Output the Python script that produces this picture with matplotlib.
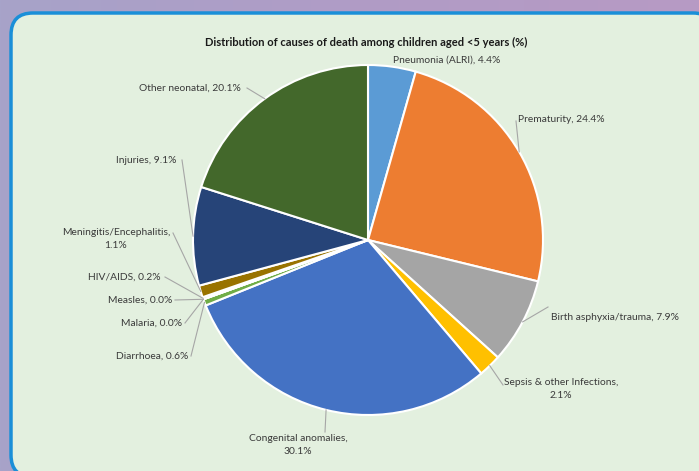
import numpy as np
import matplotlib
matplotlib.use("Agg")
import matplotlib.pyplot as plt
from matplotlib.patches import FancyBboxPatch

# data
causes = ["Pneumonia (ALRI)", "Prematurity", "Birth asphyxia/trauma",
          "Sepsis & other Infections", "Congenital anomalies", "Diarrhoea",
          "Malaria", "Measles", "HIV/AIDS", "Meningitis/Encephalitis",
          "Injuries", "Other neonatal"]
shares = [4.4, 24.4, 7.9, 2.1, 30.1, 0.6, 0.0, 0.0, 0.2, 1.1, 9.1, 20.1]
colors = ["#5B9BD5", "#ED7D31", "#A5A5A5", "#FFC000", "#4472C4", "#70AD47",
          "#255E91", "#9E480E", "#636363", "#997300", "#264478", "#43682B"]

W, H = 699, 471
CX, CY, R = 368, 240, 175  # pie centre / radius in pixels (from top)

# label text anchor (px), alignment, line break, elbow point (px)
label_pos = {
    "Pneumonia (ALRI)": ((447, 60), "center", False, None),
    "Prematurity": ((518, 119), "left", False, (516, 121)),
    "Birth asphyxia/trauma": ((551, 318), "left", False, (548, 307)),
    "Sepsis & other Infections": ((561, 389), "center", True, (503, 385)),
    "Congenital anomalies": ((298, 445), "center", True, (325, 432)),
    "Diarrhoea": ((188, 356), "right", False, (191, 356)),
    "Malaria": ((182, 323), "right", False, (185, 323)),
    "Measles": ((172, 300), "right", False, (175, 300)),
    "HIV/AIDS": ((161, 277), "right", False, (165, 277)),
    "Meningitis/Encephalitis": ((116, 239), "center", True, (173, 233)),
    "Injuries": ((176, 160), "right", False, (182, 160)),
    "Other neonatal": ((241, 88), "right", False, (247, 88)),
}

plt.rcParams['font.family'] = ['Lato', 'DejaVu Sans']

fig = plt.figure(figsize=(W / 100, H / 100), dpi=100)

# purple background
bg = fig.add_axes([0, 0, 1, 1])
grad = np.linspace(0, 1, 256).reshape(1, -1)
cmap = matplotlib.colors.LinearSegmentedColormap.from_list("bg", ["#A7A3C9", "#B09CC6", "#B79AC4"])
bg.imshow(grad, aspect="auto", cmap=cmap, extent=[0, W, 0, H])
bg.set_xlim(0, W)
bg.set_ylim(0, H)
bg.axis("off")
box = FancyBboxPatch((11, -6), W + 5, H - 14 + 7,
                     boxstyle="round,pad=0,rounding_size=22",
                     facecolor="#E3F0DF", edgecolor="#1A8FD8", linewidth=2.5)
bg.add_patch(box)

ax = fig.add_axes([(CX - R) / W, (H - CY - R) / H, 2 * R / W, 2 * R / H])
wedges, _ = ax.pie(shares, colors=colors, startangle=90, counterclock=False,
                   radius=1, wedgeprops=dict(edgecolor="white", linewidth=1.5))
ax.set_xlim(-1, 1)
ax.set_ylim(-1, 1)
ax.axis("off")


def to_data(p):
    return ((p[0] - CX) / R, (CY - p[1]) / R)


cum = 0
for name, val in zip(causes, shares):
    mid = np.deg2rad(90 - (cum + val / 2) * 3.6)
    cum += val
    edge = (np.cos(mid), np.sin(mid))
    (tx, ty), ha, wrap, elbow = label_pos[name]
    txt = f"{name},\n{val:.1f}%" if wrap else f"{name}, {val:.1f}%"
    tx, ty = to_data((tx, ty))
    ax.text(tx, ty, txt, ha=ha, va="center", fontsize=7.4, color="#3a3a3a",
            linespacing=1.5, clip_on=False)
    if elbow is not None:
        ex, ey = to_data(elbow)
        ax.plot([edge[0], ex], [edge[1], ey], color="#A6A6A6", lw=0.8, clip_on=False)

fig.text(366 / W, 1 - 42 / H, "Distribution of causes of death among children aged <5 years (%)",
         ha="center", va="center", fontsize=8, fontweight="bold", color="#1a1a1a")

fig.savefig("out.png", dpi=100)
